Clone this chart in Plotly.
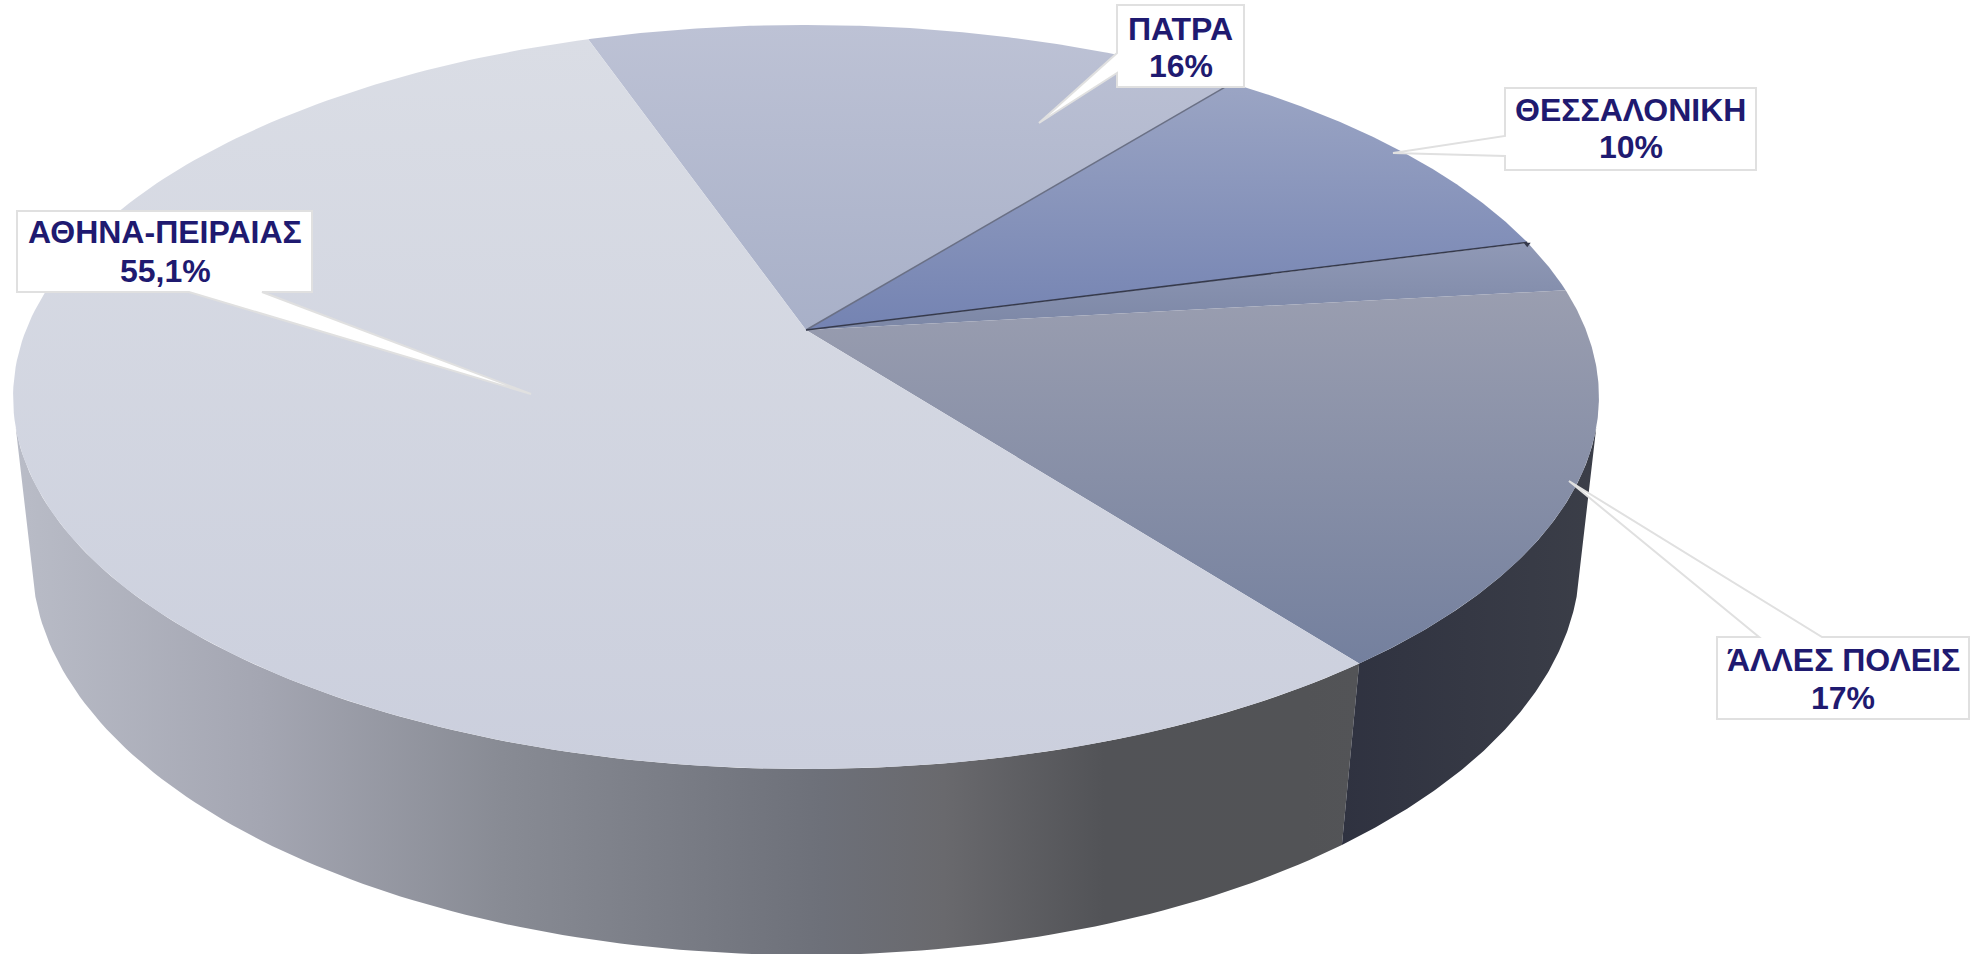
import numpy as np
import plotly.graph_objects as go

# ---- data (clockwise from the Athens/Patra seam)
categories = ["ΠΑΤΡΑ", "ΘΕΣΣΑΛΟΝΙΚΗ", "(μικρό τμήμα)", "ΆΛΛΕΣ ΠΟΛΕΙΣ", "ΑΘΗΝΑ-ΠΕΙΡΑΙΑΣ"]
values = [16.0, 10.2, 2.3, 16.4, 55.1]
label_names = ["ΑΘΗΝΑ-ΠΕΙΡΑΙΑΣ", "ΠΑΤΡΑ", "ΘΕΣΣΑΛΟΝΙΚΗ", "ΆΛΛΕΣ ΠΟΛΕΙΣ"]
label_values = ["55,1%", "16%", "10%", "17%"]

# ---- styles
top_colors = [
    ("#bdc2d5", "#a8b0c8"),
    ("#9ba5c4", "#7483b2"),
    ("#9099b6", "#7c87a6"),
    ("#9a9eb0", "#74809e"),
    ("#dadde5", "#cbcfdd"),
]
text_color = "#1f1a70"
box_line = "#e0e0e0"
first_angle = -19.07
W, H = 1977, 954

# ---- perspective model of the two discs
CX = 806.0
TOP = dict(y0=330.0, a=780.0, b=360.0, k=0.18)
LOW = dict(y0=492.8, a=762.7, b=383.6, k=0.17)


def rim(deg, d):
    t = np.radians(np.asarray(deg, dtype=float))
    u, v = np.sin(t), np.cos(t)
    w = 1 + d["k"] * v
    return CX + d["a"] * u / w, d["y0"] - d["b"] * v / w


edges = first_angle + np.concatenate([[0], np.cumsum(values)]) * 3.6
fig = go.Figure()

# ---- side walls
seam = edges[4]


def wall(a0, a1, scale, start, stop):
    th = np.linspace(a0, a1, 120)
    xt, yt = rim(th, TOP)
    xb, yb = rim(th, LOW)
    fig.add_trace(go.Scatter(
        x=np.concatenate([xt, xb[::-1]]), y=np.concatenate([yt, yb[::-1]]),
        mode="lines", fill="toself", line=dict(width=0), hoverinfo="skip",
        fillgradient=dict(type="horizontal", colorscale=scale, start=start, stop=stop),
    ))


wall(seam, 255, [[0, "#535457"], [0.038, "#525356"], [0.188, "#525357"], [0.307, "#69696d"],
                 [0.398, "#6d7079"], [0.637, "#888b94"], [0.817, "#a4a6b2"], [1, "#b9bcc7"]], 1356, 16)
wall(105, seam, [[0, "#3b3e48"], [1, "#2f3240"]], 1596, 1340)

# ---- top face slices
for i, cat in enumerate(categories):
    th = np.linspace(edges[i], edges[i + 1], 200)
    xr, yr = rim(th, TOP)
    c0, c1 = top_colors[i]
    fig.add_trace(go.Scatter(
        x=np.concatenate([[CX], xr, [CX]]), y=np.concatenate([[TOP["y0"]], yr, [TOP["y0"]]]),
        mode="lines", fill="toself", line=dict(width=0), name=cat, hoverinfo="skip",
        fillgradient=dict(type="vertical", colorscale=[[0, c0], [1, c1]],
                          start=float(yr.min()),
                          stop=float(max(yr.max(), TOP["y0"]))),
    ))

# ---- slice edge lines
for idx, col, wd in [(1, "#6a7085", 1.5), (2, "#363a4c", 1.5)]:
    ex, ey = rim([edges[idx]], TOP)
    fig.add_trace(go.Scatter(x=[CX, ex[0]], y=[TOP["y0"], ey[0]], mode="lines",
                             line=dict(color=col, width=wd), hoverinfo="skip"))
ex, ey = rim([edges[2]], TOP)
fig.add_trace(go.Scatter(x=ex, y=ey + 2, mode="markers", hoverinfo="skip",
                         marker=dict(symbol="triangle-down", size=6, color="#363a4c")))

# ---- callout boxes (box corners and pointer, layout only)
callouts = [
    "M17 211 L312 211 L312 292 L262 292 L531 394 L189 292 L17 292 Z",
    "M1117 5 L1244 5 L1244 87 L1117 87 L1117 73 L1039 123 L1117 53 Z",
    "M1505 88 L1756 88 L1756 170 L1505 170 L1505 156 L1393 153 L1505 136 Z",
    "M1717 637 L1759 637 L1569 481 L1822 637 L1969 637 L1969 719 L1717 719 Z",
]
shapes = [dict(type="path", path=p, xref="x", yref="y", fillcolor="white",
               line=dict(color=box_line, width=2), layer="above") for p in callouts]

label_pos = [(165, 232, 271), (1180.5, 29, 66), (1630.5, 110, 147), (1843, 660, 698)]
annotations = []
for nm, val, (x, y1, y2) in zip(label_names, label_values, label_pos):
    for txt, y in ((nm, y1), (val, y2)):
        annotations.append(dict(x=x, y=y, xref="x", yref="y", text=f"<b>{txt}</b>", showarrow=False,
                                xanchor="center", yanchor="middle",
                                font=dict(family="Liberation Sans, Arial, sans-serif", size=32, color=text_color)))

fig.update_layout(
    width=W, height=H, margin=dict(l=0, r=0, t=0, b=0), showlegend=False,
    paper_bgcolor="white", plot_bgcolor="white", shapes=shapes, annotations=annotations,
    xaxis=dict(range=[0, W], visible=False, fixedrange=True),
    yaxis=dict(range=[H, 0], visible=False, fixedrange=True),
)
fig.write_html("out.html", post_script="document.body.style.margin='0';document.documentElement.style.overflow='hidden';",
               config=dict(displayModeBar=False))
